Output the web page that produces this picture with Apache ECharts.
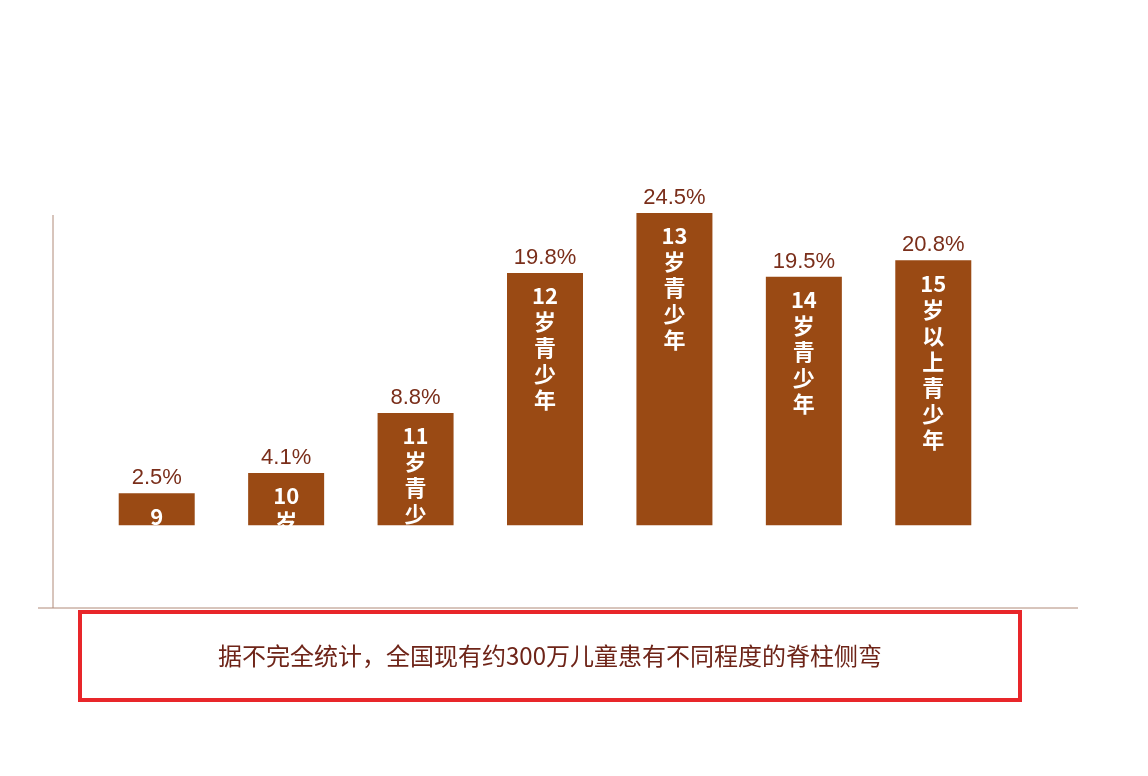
<!DOCTYPE html>
<html><head><meta charset="utf-8">
<script src="https://cdn.jsdelivr.net/npm/echarts@6/dist/echarts.min.js"></script>
<style>html,body{margin:0;background:#fff}#c{width:1148px;height:776px}</style>
</head><body><div id="c"></div>
<script>
const categories = ['9岁儿童','10岁儿童','11岁青少年','12岁青少年','13岁青少年','14岁青少年','15岁以上青少年'];
const barTexts = ['9\n岁\n儿\n童','10\n岁\n儿\n童','11\n岁\n青\n少\n年','12\n岁\n青\n少\n年','13\n岁\n青\n少\n年','14\n岁\n青\n少\n年','15\n岁\n以\n上\n青\n少\n年'];
const values = [2.5, 4.1, 8.8, 19.8, 24.5, 19.5, 20.8];
const baseOffset = [6.5, 6.5, 6.5, 6.5, 6.5, 6.5, 6.5];
const caption = '据不完全统计，全国现有约300万儿童患有不同程度的脊柱侧弯';
const chart = echarts.init(document.getElementById('c'));
chart.setOption({
  animation:false,
  grid:{left:92,right:150,top:213,bottom:168},
  xAxis:{type:'category',data:categories,axisLine:{show:false},axisTick:{show:false},axisLabel:{show:false}},
  yAxis:{type:'value',min:0,max:31,show:false},
  graphic:[
    {type:'line',shape:{x1:53,y1:215,x2:53,y2:608},style:{stroke:'#b08a78',lineWidth:1}},
    {type:'line',shape:{x1:38,y1:608,x2:1078,y2:608},style:{stroke:'#b08a78',lineWidth:1}},
    {type:'rect',shape:{x:80,y:612,width:940,height:88},style:{fill:'none',stroke:'#e8262a',lineWidth:4}},
    {type:'text',x:550,y:656,style:{text:caption,fill:'#6e2418',font:'24px "Noto Sans CJK SC"',align:'center',verticalAlign:'middle'}}
  ],
  series:[
    {type:'bar',stack:'s',data:baseOffset,barWidth:76,itemStyle:{color:'transparent'},silent:true},
    {type:'bar',stack:'s',data:values,barWidth:76,itemStyle:{color:'#9a4a14'},
      label:{show:true,position:'top',distance:4,formatter:p=>p.value+'%',color:'#7a2e1a',fontSize:22,fontFamily:'Liberation Sans'}},
    {type:'bar',stack:'t',data:values.map((v,i)=>v+baseOffset[i]),barWidth:76,barGap:'-100%',itemStyle:{color:'transparent'},silent:true,
      label:{show:true,position:'insideTop',distance:10,formatter:p=>barTexts[p.dataIndex],color:'#fff',fontSize:22,fontWeight:'bold',lineHeight:26,fontFamily:'Noto Sans CJK SC'}}
  ]
});
</script></body></html>
